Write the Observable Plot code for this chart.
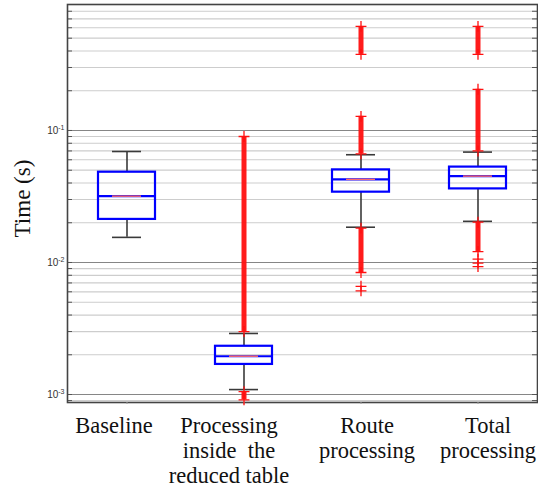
<!DOCTYPE html>
<html>
<head>
<meta charset="utf-8">
<script src="https://cdn.jsdelivr.net/npm/d3@7"></script>
<script src="https://cdn.jsdelivr.net/npm/@observablehq/plot@0.6"></script>
<style>
  html, body { margin: 0; padding: 0; background: #fff; }
</style>
</head>
<body>
<div id="chart"></div>
<script>
// Timing distributions of the four processing stages (seconds, log scale)
const categories = [
  "Baseline",
  "Processing inside the reduced table",
  "Route processing",
  "Total processing"
];
const labelLines = [
  ["Baseline"],
  ["Processing", "inside  the", "reduced table"],
  ["Route", "processing"],
  ["Total", "processing"]
];

// Box statistics
const whiskerLo = [0.0155, 0.00109, 0.0185, 0.0205];
const q1        = [0.0212, 0.00169, 0.0341, 0.0361];
const median    = [0.0318, 0.00195, 0.0426, 0.0451];
const q3        = [0.0483, 0.00232, 0.0503, 0.0528];
const whiskerHi = [0.0693, 0.00290, 0.0655, 0.0686];

// Dense runs of outliers (low and high end of each run)
const runCategory = [
  "Processing inside the reduced table", "Processing inside the reduced table",
  "Route processing", "Route processing", "Route processing",
  "Total processing", "Total processing", "Total processing"
];
const runLo = [0.00300, 0.00091, 0.0665, 0.377, 0.0084, 0.0700, 0.377, 0.0121];
const runHi = [0.0900, 0.00105, 0.128, 0.614, 0.0182, 0.205, 0.614, 0.0202];

// Isolated outliers
const pointCategory = ["Route processing", "Route processing", "Total processing", "Total processing", "Total processing"];
const pointValue = [0.0066, 0.0061, 0.0106, 0.0099, 0.0093];

// Axis ticks
const majorTicks = [0.001, 0.01, 0.1];
const minorTicks = [0.0009].concat(
  [0.001, 0.01, 0.1].flatMap(d => [2, 3, 4, 5, 6, 7, 8, 9].map(k => +(k * d).toPrecision(3)))
);

const BLUE = "#0000ff";
const RED = "#ff1010";
const WHISKER = "#3a3a3a";
const serif = "'Liberation Serif', 'Times New Roman', serif";
const labelShift = [-13, -15, 6, 10];

const chart = Plot.plot({
  width: 538,
  height: 489,
  marginTop: 4,
  marginLeft: 67,
  marginRight: 1,
  marginBottom: 87,
  style: { background: "#fff", fontFamily: "'Liberation Sans', Arial, sans-serif" },
  x: { type: "band", domain: categories, padding: 0, axis: null },
  y: { type: "log", domain: [0.00087, 0.9], axis: null },
  marks: [
    // grid
    Plot.ruleY(minorTicks, { stroke: "#cdcdcd", strokeWidth: 1.2 }),
    Plot.ruleY(majorTicks, { stroke: "#868686", strokeWidth: 1.2 }),
    // inward ticks on both sides
    Plot.ruleY(minorTicks.concat(majorTicks), { stroke: "#555", insetRight: 465 }),
    Plot.ruleY(minorTicks.concat(majorTicks), { stroke: "#555", insetLeft: 465 }),
    Plot.frame({ stroke: "#444", strokeWidth: 1.6 }),
    Plot.axisX({ tickSize: 2, tickFormat: () => "", stroke: "#999" }),
    Plot.axisY({
      ticks: majorTicks,
      tickSize: 0,
      tickPadding: 3,
      tickFormat: d => String(Math.round(Math.log10(d))),
      fontSize: 10,
      fill: "#333",
      label: null
    }),
    // whiskers and caps
    Plot.ruleX(categories, { x: categories, y1: q3, y2: whiskerHi, stroke: WHISKER, strokeWidth: 1.6 }),
    Plot.ruleX(categories, { x: categories, y1: whiskerLo, y2: q1, stroke: WHISKER, strokeWidth: 1.6 }),
    Plot.tickY(categories, { x: categories, y: whiskerHi, stroke: WHISKER, strokeWidth: 1.6, insetLeft: 44, insetRight: 44 }),
    Plot.tickY(categories, { x: categories, y: whiskerLo, stroke: WHISKER, strokeWidth: 1.6, insetLeft: 44, insetRight: 44 }),
    // outliers
    Plot.ruleX(runCategory, { x: runCategory, y1: runLo, y2: runHi, stroke: RED, strokeWidth: 5, strokeOpacity: 0.95 }),
    Plot.dot(runCategory, { x: runCategory, y: runLo, symbol: "plus", r: 3.6, stroke: RED, strokeWidth: 1.3 }),
    Plot.dot(runCategory, { x: runCategory, y: runHi, symbol: "plus", r: 3.6, stroke: RED, strokeWidth: 1.3 }),
    Plot.dot(pointCategory, { x: pointCategory, y: pointValue, symbol: "plus", r: 3.6, stroke: RED, strokeWidth: 1.3 }),
    // boxes
    Plot.barY(categories, { x: categories, y1: q1, y2: q3, fill: "none", stroke: BLUE, strokeWidth: 2.2, insetLeft: 30, insetRight: 30 }),
    Plot.tickY(categories, { x: categories, y: median, stroke: BLUE, strokeWidth: 2.2, insetLeft: 29, insetRight: 29 }),
    Plot.tickY(categories, { x: categories, y: median, stroke: "#ff6a6a", strokeWidth: 1.4, insetLeft: 44, insetRight: 44 }),
    // y title
    Plot.text(["Time (s)"], {
      frameAnchor: "left", textAnchor: "middle", rotate: -90, dx: -45, dy: -5,
      fontFamily: serif, fontSize: 23, fill: "#111"
    }),
    // category labels
    ...labelLines.map((lines, i) => Plot.text([lines.join("\n")], {
      x: [categories[i]],
      frameAnchor: "bottom",
      lineAnchor: "top",
      lineHeight: 1.13,
      dy: 12,
      dx: labelShift[i],
      fontFamily: serif,
      fontSize: 22.5,
      fill: "#111"
    }))
  ]
});

// power-of-ten tick labels with superscript exponents
chart.querySelectorAll('g[aria-label="y-axis tick label"] text').forEach(t => {
  const exp = t.textContent.replace("−", "-");
  t.textContent = "10";
  const sup = document.createElementNS("http://www.w3.org/2000/svg", "tspan");
  sup.setAttribute("dy", "-0.5em");
  sup.setAttribute("font-size", "7");
  sup.textContent = exp;
  t.appendChild(sup);
});

document.getElementById("chart").appendChild(chart);
</script>
</body>
</html>
